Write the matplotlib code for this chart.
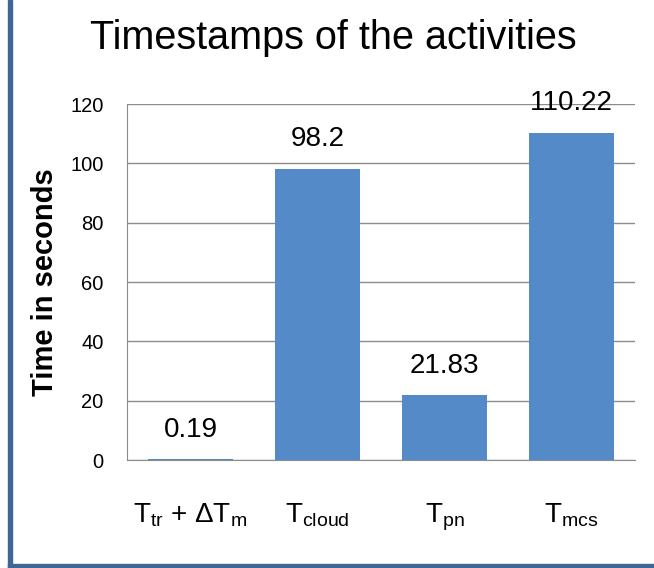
import matplotlib
matplotlib.use('Agg')
import matplotlib.pyplot as plt
from matplotlib.patches import Rectangle

plt.rcParams['font.family'] = ['Liberation Sans', 'DejaVu Sans']
plt.rcParams['mathtext.fontset'] = 'custom'
plt.rcParams['mathtext.rm'] = 'Liberation Sans'
plt.rcParams['mathtext.it'] = 'Liberation Sans'

# activity timings
labels = [r'$\mathregular{T_{tr}}$ + $\mathregular{\Delta T_{m}}$', r'$\mathregular{T_{cloud}}$',
          r'$\mathregular{T_{pn}}$', r'$\mathregular{T_{mcs}}$']
values = [0.19, 98.2, 21.83, 110.22]
value_text = ['0.19', '98.2', '21.83', '110.22']
yticks = [0, 20, 40, 60, 80, 100, 120]

W, H = 654, 568
fig = plt.figure(figsize=(W / 100, H / 100), dpi=100)
ax = fig.add_axes([127 / W, 1 - 460 / H, (635 - 127) / W, (460 - 104) / H])

x = range(len(values))
ax.bar(x, values, width=0.67, color='#558ac8', zorder=3)
for i, v in enumerate(values):
    ax.annotate(value_text[i], (i, v), xytext=(0, 12), textcoords='offset points',
                ha='center', va='bottom', fontsize=20)

ax.set_xlim(-0.5, len(values) - 0.5)
ax.set_ylim(0, 120)
ax.set_yticks(yticks)
ax.tick_params(axis='y', length=0, pad=17, labelsize=14.5)
ax.set_xticks(list(x))
ax.set_xticklabels(labels, fontsize=20)
ax.tick_params(axis='x', length=0, pad=30)
ax.yaxis.grid(True, color='#8c8c8c', linewidth=1, zorder=0)
for side in ['top', 'right']:
    ax.spines[side].set_visible(False)
for side in ['left', 'bottom']:
    ax.spines[side].set_color('#8c8c8c')

ax.set_ylabel('Time in seconds', fontsize=21, fontweight='bold', labelpad=8)
fig.text(333 / W, 1 - 38 / H, 'Timestamps of the activities', ha='center', va='center', fontsize=28.5)

# outer frame, only left and bottom edges fall inside the image
fig.add_artist(Rectangle((8 / W, 0), 4 / W, 1, transform=fig.transFigure, color='#3f6699'))
fig.add_artist(Rectangle((8 / W, 0), 1, 4 / H, transform=fig.transFigure, color='#3f6699'))

fig.savefig('out.png', dpi=100)
